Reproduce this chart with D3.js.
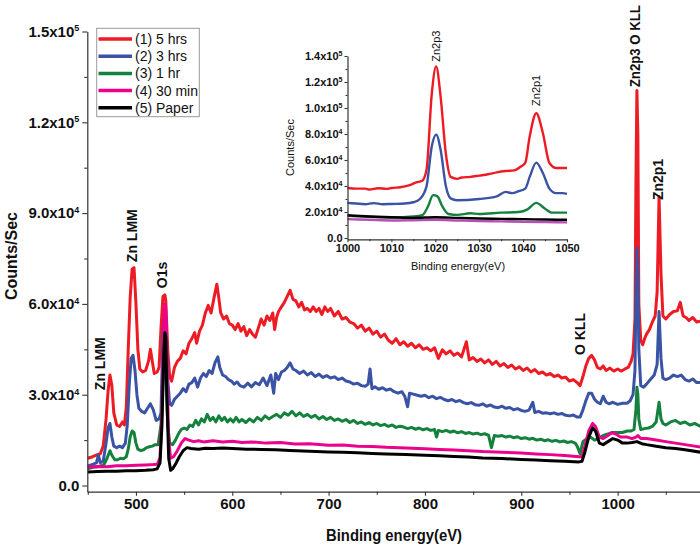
<!DOCTYPE html>
<html><head><meta charset="utf-8">
<script src="https://cdn.jsdelivr.net/npm/d3@7"></script>
<style>
html,body{margin:0;padding:0;background:#fff;}
svg{display:block;font-family:"Liberation Sans",Arial,sans-serif;}
</style></head>
<body>
<svg id="chart" width="700" height="547"></svg>
<script>
// ---------- DATA (main survey spectrum) ----------
const seriesNames = ["(1) 5 hrs","(2) 3 hrs","(3) 1 hr","(4) 30 min","(5) Paper"];
const seriesColors = ["#ed1c24","#3a53a4","#14813d","#ec008c","#000000"];
const insetColors = ["#ed1c24","#3a53a4","#14813d","#b84fb4","#000000"];

const xTicks = [500,600,700,800,900,1000];
const xMinorTicks = [450,550,650,750,850,950,1050];
const yTicks = [0,30000,60000,90000,120000,150000];
const yMinorTicks = [15000,45000,75000,105000,135000];

const red5h = [[450,9000],[455,9500],[460,10200],[463,10500],[466,13000],[469,22000],[471,31000],[473,36500],[475,33000],[477,24000],[480,20000],[483,19500],[486,21000],[488,20000],[490,26000],[492,45000],[494,62000],[496,71500],[498,72000],[500,60000],[502,45000],[504,38500],[507,37500],[510,38000],[513,41000],[515,45000],[517,41000],[519,37000],[522,37500],[524,39000],[526,52000],[528,62500],[530,63000],[531,61000],[533,45000],[535,36000],[537,34500],[540,39000],[543,41000],[546,42000],[549,44500],[552,43500],[555,47000],[558,48500],[561,50500],[563,47000],[566,51000],[569,53000],[572,57000],[575,59500],[578,57000],[581,62000],[584,66500],[586,62000],[588,57000],[591,55000],[594,56000],[597,53500],[600,53000],[603,51500],[606,53500],[609,51000],[612,52500],[615,49500],[618,51500],[621,50000],[624,49000],[627,52000],[630,55000],[633,53000],[636,56000],[639,54500],[642,57000],[644,51500],[646,55500],[648,57500],[651,59000],[654,60500],[657,62500],[660,64500],[663,61500],[666,61000],[669,59000],[672,60500],[675,58000],[678,58500],[681,57500],[684,59000],[687,57500],[690,58500],[693,56500],[696,59000],[699,57500],[702,58500],[706,56000],[710,57500],[714,55000],[718,55500],[722,54000],[726,53500],[730,52000],[734,53000],[738,51000],[742,52000],[746,50000],[750,51000],[754,49000],[758,50000],[762,48000],[766,47000],[770,48500],[774,46500],[778,47500],[782,46000],[786,47000],[790,45500],[794,46500],[798,45000],[802,45500],[806,44500],[810,45500],[814,42000],[818,44800],[822,43500],[826,44500],[830,43000],[834,43800],[838,42500],[843,47500],[846,41500],[850,42300],[854,41000],[858,41800],[862,40500],[866,41500],[870,40000],[874,41000],[878,39500],[882,40300],[886,39000],[890,39800],[894,38500],[898,39200],[902,38000],[906,38800],[910,37500],[914,38300],[918,37000],[922,37500],[926,36500],[930,37000],[934,36000],[938,36500],[942,35500],[946,35800],[950,34500],[954,35000],[958,34000],[961,33000],[964,36000],[967,39500],[970,42000],[973,43000],[976,41500],[979,39000],[982,38500],[985,39500],[988,38000],[992,38800],[996,37800],[1000,38500],[1004,37800],[1008,38600],[1011,39000],[1014,41000],[1016,43500],[1018,55000],[1019,100000],[1020,130500],[1021,116000],[1022,60000],[1024,48000],[1026,46500],[1028,48500],[1030,50000],[1033,51500],[1036,54000],[1039,56000],[1041,64000],[1043,95500],[1045,70000],[1047,56000],[1050,55000],[1054,56500],[1058,57500],[1062,57700],[1065,60500],[1068,56000],[1071,55500],[1074,54500],[1078,55500],[1082,54000],[1086,54300]];

const blue3h = [[450,6500],[455,7000],[459,7500],[461,10000],[463,7500],[466,8000],[469,14000],[471,19000],[473,20500],[475,16000],[477,13000],[480,12500],[483,13000],[486,12500],[489,14000],[491,20000],[493,33000],[495,42000],[497,43000],[499,38000],[501,30000],[503,25500],[506,24500],[509,24000],[512,25500],[515,27000],[518,25000],[521,21500],[524,22000],[526,24000],[528,50000],[530,58000],[531,55000],[533,35000],[535,27000],[537,26500],[540,28500],[543,29500],[546,30500],[549,32000],[552,31000],[555,33500],[558,34000],[561,35500],[564,32500],[567,35500],[570,37000],[573,36000],[576,38000],[579,37000],[582,40500],[585,42500],[587,39000],[590,36500],[593,36000],[596,35000],[599,34500],[602,33500],[605,34200],[608,33000],[612,32500],[616,33800],[620,32600],[624,34000],[628,33300],[632,35500],[636,33000],[640,36500],[643,30500],[645,37000],[648,35000],[651,37500],[654,38000],[657,39000],[660,40500],[663,38500],[666,38000],[670,37000],[674,37800],[678,36500],[682,37300],[686,36000],[690,36800],[694,35700],[698,36300],[702,35500],[706,35900],[710,35000],[714,35500],[718,34500],[722,34200],[726,33500],[730,33800],[734,33000],[738,32800],[741,33500],[743,38500],[745,32000],[748,32600],[752,31800],[756,32300],[760,31500],[764,31900],[768,31000],[772,30500],[776,31000],[779,29500],[782,26000],[784,30500],[788,30200],[792,29800],[796,29500],[800,29800],[804,29000],[808,29500],[812,28700],[816,29100],[820,28400],[824,28000],[828,28400],[832,27700],[836,28100],[840,27400],[844,27000],[848,27400],[852,26700],[856,26500],[860,27000],[864,26200],[868,26600],[872,25900],[876,25700],[880,26200],[884,25500],[888,25800],[892,25000],[896,25400],[900,24800],[904,24500],[908,24900],[912,27500],[914,24100],[918,24500],[922,23900],[926,24000],[930,23700],[934,24000],[938,23500],[942,23800],[946,23200],[950,23000],[954,23300],[958,22600],[961,22600],[964,25000],[967,28000],[970,30500],[973,30500],[976,28500],[979,27500],[982,27000],[985,29500],[988,27500],[991,27000],[995,27500],[1000,26800],[1005,27200],[1010,27200],[1013,28000],[1016,30000],[1018,38000],[1019,62000],[1020,78500],[1021,70000],[1022,45000],[1024,33000],[1027,32500],[1030,33500],[1034,35000],[1038,36500],[1041,40000],[1043,57500],[1045,42000],[1047,35500],[1050,35000],[1054,35500],[1058,36500],[1062,36000],[1066,36500],[1070,35000],[1074,34500],[1078,35200],[1082,34000],[1086,34000]];

const green1h = [[450,5500],[455,6000],[460,6200],[464,6500],[467,7000],[470,9000],[473,11500],[475,10000],[478,8500],[481,8500],[484,9000],[487,8800],[490,9500],[492,12000],[494,16000],[496,18000],[498,17500],[500,14000],[502,12000],[505,11500],[508,11800],[511,12500],[514,12800],[517,13000],[520,13500],[523,13500],[526,20000],[529,40000],[531,40000],[533,20000],[535,14000],[538,13500],[541,15000],[544,17000],[547,18500],[550,19000],[553,18500],[556,20000],[559,19500],[562,21500],[565,20000],[568,22000],[571,21000],[574,23500],[577,21500],[580,22500],[583,21000],[586,23000],[589,21500],[592,22500],[595,21000],[598,22000],[601,21000],[604,22500],[607,21000],[610,21800],[614,20800],[618,22000],[622,21000],[626,22500],[630,21500],[634,23000],[638,22000],[642,22800],[646,23500],[650,22500],[654,24000],[658,23200],[662,24500],[666,23000],[670,24000],[674,22800],[678,23500],[682,22500],[686,23200],[690,22000],[694,22800],[698,21800],[702,22500],[706,21500],[710,22000],[714,21200],[718,21800],[722,20800],[726,21500],[730,20500],[734,21000],[738,20200],[742,20800],[746,20000],[750,20500],[754,19800],[758,20200],[762,19500],[766,20000],[770,19200],[774,19600],[778,19300],[782,18800],[786,19200],[790,18600],[794,19000],[798,18400],[802,18800],[806,18200],[810,18500],[812,16000],[814,18200],[818,17800],[822,18200],[826,17600],[830,18000],[834,17400],[838,17800],[842,17200],[846,17500],[850,17000],[854,17300],[858,16800],[862,17100],[866,16600],[869,12500],[872,16500],[876,16300],[880,16500],[884,16000],[888,16300],[892,15800],[896,16100],[900,15500],[904,15800],[908,15300],[912,15600],[916,15000],[920,15300],[924,14800],[928,15100],[932,14600],[936,14900],[940,14400],[944,14700],[948,14200],[952,14500],[956,14000],[958,13000],[961,10500],[964,14500],[968,15500],[972,16000],[976,15000],[980,15500],[985,16500],[990,17000],[995,17500],[1000,17500],[1005,17500],[1010,18000],[1014,18000],[1017,18500],[1019,25000],[1020,32500],[1021,30000],[1022,22000],[1024,18500],[1028,18800],[1032,19000],[1036,19500],[1040,21000],[1043,27500],[1045,22000],[1047,20500],[1050,20000],[1055,21000],[1060,21500],[1065,20500],[1070,21000],[1075,20000],[1080,20500],[1086,19500]];

const pink30m = [[450,6000],[460,6300],[470,6200],[480,6500],[490,6500],[500,6700],[510,6800],[518,6900],[522,7000],[525,9000],[527,25000],[529,55000],[530,60000],[531,58000],[532,40000],[534,15000],[536,9000],[539,9500],[543,11500],[547,14000],[551,15500],[555,15000],[560,14500],[565,14800],[570,14400],[580,14800],[590,14400],[600,14600],[610,14200],[620,14400],[635,14000],[650,14200],[665,13700],[680,13800],[700,13300],[715,13400],[730,13000],[745,12900],[760,12600],[780,12400],[800,12100],[815,11900],[830,11700],[845,11500],[860,11200],[880,11000],[900,10700],[915,10400],[930,10200],[945,9900],[960,9500],[963,9500],[966,13000],[970,18000],[974,20500],[977,19500],[981,16000],[985,15500],[990,16500],[994,17500],[998,17000],[1003,16000],[1010,16000],[1015,15500],[1019,16000],[1021,16500],[1024,15500],[1030,15500],[1040,15000],[1050,14500],[1060,14000],[1070,13500],[1086,12700]];

const blackPaper = [[450,4500],[460,4600],[470,4700],[480,4700],[490,4900],[500,4900],[510,5000],[518,5200],[522,5500],[525,7500],[527,20000],[529,45000],[530,50500],[531,49000],[532,30000],[534,9000],[536,5000],[538,5500],[541,7000],[545,9500],[549,11500],[553,12500],[557,12200],[565,12000],[572,12300],[580,12200],[590,12400],[600,12200],[615,12000],[630,11900],[645,11800],[660,11600],[680,11300],[700,11100],[715,11000],[730,10800],[745,10600],[760,10400],[780,10200],[800,10000],[815,9800],[830,9600],[845,9400],[860,9100],[880,8900],[900,8600],[915,8400],[930,8200],[945,8000],[960,7800],[963,8000],[966,11000],[970,16000],[974,19000],[977,18000],[981,14000],[985,13500],[990,14500],[995,15500],[1000,15000],[1005,14000],[1010,14000],[1015,14200],[1020,14500],[1025,13800],[1030,13500],[1040,13000],[1050,12500],[1060,12200],[1070,11800],[1086,11000]];

// ---------- DATA (inset, Zn2p region) ----------
const insetXTicks = [1000,1010,1020,1030,1040,1050];
const insetXMinorTicks = [1005,1015,1025,1035,1045];
const insetYTicks = [0,20000,40000,60000,80000,100000,120000,140000];
const insetYMinorTicks = [10000,30000,50000,70000,90000,110000,130000];

const insetRed = [[1000,38500],[1002,38000],[1004,38000],[1005,37300],[1007,38300],[1009,37800],[1010,38500],[1012,39000],[1014,40500],[1015.7,42800],[1017,44000],[1018,52500],[1019.2,111000],[1020.2,132000],[1021.2,109000],[1022.4,65000],[1023.5,47000],[1025,45500],[1026,46500],[1028,47000],[1030,48000],[1032,49000],[1034,50500],[1036,51500],[1038,52000],[1039.5,55000],[1040.5,58000],[1041.5,78000],[1043,96000],[1044.5,80800],[1046,57700],[1047.6,53800],[1050,53800]];
const insetBlue = [[1000,27000],[1002,26500],[1004,26000],[1006,26800],[1008,26000],[1010,26200],[1013,26500],[1015,27500],[1016.5,30000],[1018,39700],[1019.2,70500],[1020.2,79500],[1021.2,68000],[1022.4,40000],[1023.5,30500],[1025,29000],[1030,30000],[1034,32000],[1036,35500],[1037.5,34500],[1039,36000],[1040.5,38000],[1041.5,47000],[1043,58000],[1044.5,50000],[1046,38000],[1047.5,34500],[1049,34500],[1050,34000]];
const insetGreen = [[1000,17000],[1005,16300],[1010,15800],[1015,16500],[1017,17500],[1018.3,24000],[1019.5,33000],[1020.5,32000],[1021.5,25000],[1023,18500],[1025,17800],[1028,19000],[1030,18500],[1035,19500],[1039,20000],[1041,22000],[1043,27000],[1045,22500],[1046.5,19500],[1050,19500]];
const insetPurple = [[1000,14500],[1005,14000],[1010,13500],[1015,13700],[1020,14000],[1025,13500],[1030,13000],[1035,12800],[1040,12500],[1045,12200],[1050,12000]];
const insetBlack = [[1000,17500],[1005,16500],[1010,16000],[1015,15500],[1020,16000],[1025,15500],[1030,15000],[1035,14700],[1040,14500],[1045,14200],[1050,14000]];

const mainSeries = [red5h, blue3h, green1h, pink30m, blackPaper];
const insetSeries = [insetRed, insetBlue, insetGreen, insetPurple, insetBlack];

// peak annotations: [label, energy of label, counts at the label's lower end]
const mainAnnotations = [["Zn LMM",462.6,31500],["Zn LMM",495.5,73800],["O1s",526.7,65200],["O KLL",961,43100],["Zn2p3 O KLL",1018.2,131600],["Zn2p1",1042,94300]];
const insetAnnotations = [["Zn2p3",1020.2,132500],["Zn2p1",1043,98500]];

// ---------- DRAW ----------
const svg = d3.select("#chart");
const FONT = '"Liberation Sans",Arial,sans-serif';

const x = d3.scaleLinear().domain([449.5,1085.5]).range([87.3,700]);
const y = d3.scaleLinear().domain([-2050,150000]).range([491.7,31.5]);

function sciLabel(sel, v, supSize){
  sel.text(null);
  if(v===0){ sel.append("tspan").text("0.0"); return; }
  const e = Math.floor(Math.log10(v)+1e-9);
  const m = (v/Math.pow(10,e)).toFixed(1);
  sel.append("tspan").text(m+"x10");
  sel.append("tspan").attr("font-size",supSize).attr("dy","-0.6em").text(e);
}

// main lines
const line = d3.line().x(d=>x(d[0])).y(d=>y(d[1]));
const gLines = svg.append("g");
mainSeries.forEach((s,i)=>{
  gLines.append("path").datum(s).attr("d",line).attr("fill","none")
    .attr("stroke",seriesColors[i]).attr("stroke-width",3).attr("stroke-linejoin","round");
});

// axes
const axisColor = "#333";
const gx = svg.append("g").attr("transform","translate(0,491.7)")
  .call(d3.axisBottom(x).tickValues(xTicks).tickSize(4).tickPadding(3).tickSizeOuter(0).tickFormat(d3.format("d")));
svg.append("g").attr("transform","translate(0,491.7)")
  .call(d3.axisBottom(x).tickValues(xMinorTicks).tickSize(3).tickSizeOuter(0).tickFormat(""))
  .select(".domain").remove();
const gy = svg.append("g").attr("transform","translate(87.3,0)")
  .call(d3.axisLeft(y).tickValues(yTicks).tickSize(5).tickPadding(3).tickSizeOuter(0));
svg.append("g").attr("transform","translate(87.3,0)")
  .call(d3.axisLeft(y).tickValues(yMinorTicks).tickSize(3).tickSizeOuter(0).tickFormat(""))
  .select(".domain").remove();
gy.selectAll(".tick text").each(function(d){ sciLabel(d3.select(this), d, 9); });
[gx,gy].forEach(g=>{
  g.selectAll("text").attr("font-family",FONT).attr("font-size",15).attr("font-weight","bold").attr("fill","#111");
});
svg.selectAll(".domain").attr("stroke",axisColor).attr("stroke-width",1.3);
svg.selectAll(".tick line").attr("stroke",axisColor).attr("stroke-width",1.2);

// axis titles
svg.append("text").attr("x",394).attr("y",541).attr("text-anchor","middle")
  .attr("font-family",FONT).attr("font-size",16).attr("font-weight","bold")
  .attr("textLength",136).attr("lengthAdjust","spacingAndGlyphs").attr("fill","#111")
  .text("Binding energy(eV)");
svg.append("text").attr("transform","translate(17,256) rotate(-90)").attr("text-anchor","middle")
  .attr("font-family",FONT).attr("font-size",16).attr("font-weight","bold").attr("fill","#111")
  .text("Counts/Sec");

// main annotations
mainAnnotations.forEach(([t,e,v])=>{
  const txt = svg.append("text").attr("transform",`translate(${x(e)+5},${y(v)}) rotate(-90)`)
    .attr("font-family",FONT).attr("font-size",14).attr("font-weight","bold").attr("fill","#111")
    .text(t);
  if(t.length>8) txt.attr("textLength",82).attr("lengthAdjust","spacingAndGlyphs");
});

// legend
const lg = svg.append("g");
lg.append("rect").attr("x",96.7).attr("y",28.3).attr("width",102.6).attr("height",88.4)
  .attr("fill","#fff").attr("stroke","#999").attr("stroke-width",1);
seriesNames.forEach((n,i)=>{
  const yy = 39 + i*17.2;
  lg.append("line").attr("x1",98.5).attr("x2",132).attr("y1",yy).attr("y2",yy)
    .attr("stroke",seriesColors[i]).attr("stroke-width",3.5);
  lg.append("text").attr("x",135).attr("y",yy).attr("dy","0.35em")
    .attr("font-family",FONT).attr("font-size",14).attr("fill","#111").text(n);
});

// ---------- INSET ----------
const ix = d3.scaleLinear().domain([1000,1050]).range([347.5,567]);
const iy = d3.scaleLinear().domain([-1000,140000]).range([239.3,56]);
const iline = d3.line().x(d=>ix(d[0])).y(d=>iy(d[1])).curve(d3.curveMonotoneX);
const gi = svg.append("g");
insetSeries.forEach((s,i)=>{
  gi.append("path").datum(s).attr("d",iline).attr("fill","none")
    .attr("stroke",insetColors[i]).attr("stroke-width",2.4).attr("stroke-linejoin","round");
});
const gix = svg.append("g").attr("transform","translate(0,239.3)")
  .call(d3.axisBottom(ix).tickValues(insetXTicks).tickSize(3).tickPadding(2).tickSizeOuter(0).tickFormat(d3.format("d")));
svg.append("g").attr("transform","translate(0,239.3)")
  .call(d3.axisBottom(ix).tickValues(insetXMinorTicks).tickSize(2).tickSizeOuter(0).tickFormat(""))
  .select(".domain").remove();
const giy = svg.append("g").attr("transform","translate(347.5,0)")
  .call(d3.axisLeft(iy).tickValues(insetYTicks).tickSize(3).tickPadding(2).tickSizeOuter(0));
svg.append("g").attr("transform","translate(347.5,0)")
  .call(d3.axisLeft(iy).tickValues(insetYMinorTicks).tickSize(2).tickSizeOuter(0).tickFormat(""))
  .select(".domain").remove();
giy.selectAll(".tick text").each(function(d){ sciLabel(d3.select(this), d, 7); });
[gix,giy].forEach(g=>{
  g.selectAll("text").attr("font-family",FONT).attr("font-size",11).attr("font-weight","bold").attr("fill","#111");
});
svg.selectAll(".domain").attr("stroke",axisColor).attr("stroke-width",1.2);
svg.selectAll(".tick line").attr("stroke",axisColor).attr("stroke-width",1.1);

svg.append("text").attr("x",458).attr("y",270).attr("text-anchor","middle")
  .attr("font-family",FONT).attr("font-size",11).attr("fill","#111").text("Binding energy(eV)");
svg.append("text").attr("transform","translate(294,147.5) rotate(-90)").attr("text-anchor","middle")
  .attr("font-family",FONT).attr("font-size",11).attr("fill","#111").text("Counts/Sec");
insetAnnotations.forEach(([t,e,v])=>{
  svg.append("text").attr("transform",`translate(${ix(e)+4},${iy(v)-4}) rotate(-90)`)
    .attr("font-family",FONT).attr("font-size",11).attr("fill","#111").text(t);
});
</script>
</body></html>
